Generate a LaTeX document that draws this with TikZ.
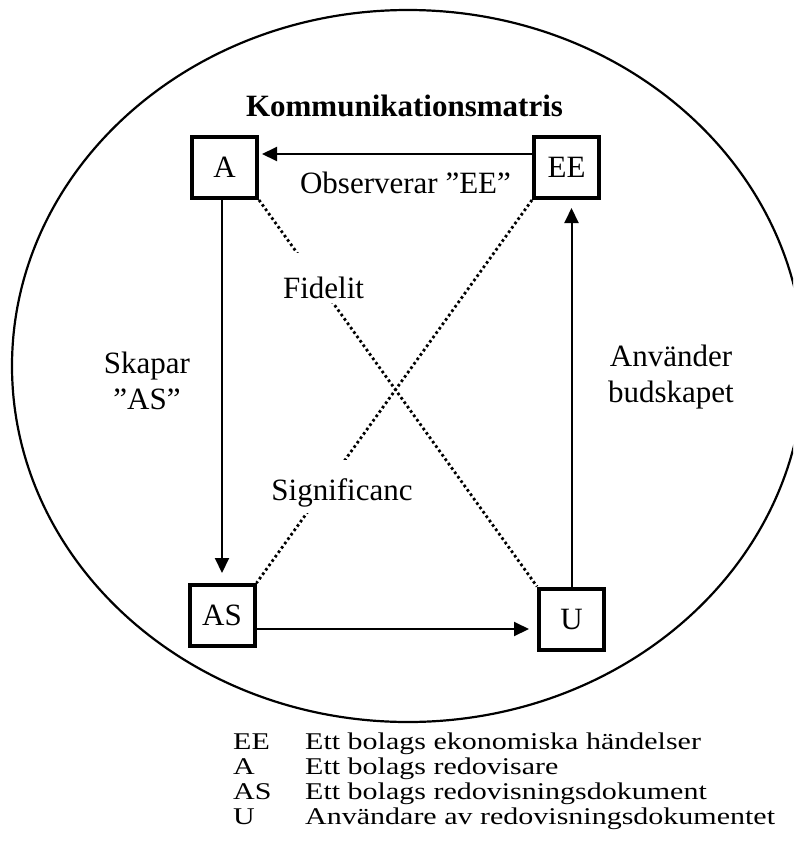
\documentclass[tikz,border=0pt]{standalone}
\usepackage{fontspec}
\setmainfont{Liberation Serif}
\usetikzlibrary{arrows.meta}
\newcommand{\wideText}[1]{\scalebox{1.25}[1]{#1}}

\begin{document}
\begin{tikzpicture}[x=1pt,y=-1pt,
  box/.style={draw,line width=4pt,minimum width=65pt,minimum height=61pt,inner sep=0pt,font=\fontsize{31}{36}\selectfont},
  lbl/.style={inner sep=0pt,font=\fontsize{31}{36}\selectfont},
  gap/.style={lbl,fill=white,inner xsep=3pt,anchor=base},
  arr/.style={line width=2pt,-{Triangle[length=15pt,width=14pt]}},
  dots/.style={line width=2.8pt,dash pattern=on 2.6pt off 2.8pt},
  key/.style={inner sep=0pt,anchor=base west,font=\fontsize{24}{25}\selectfont}]
\useasboundingbox (0,0) rectangle (793,846);
\clip (0,0) rectangle (793,846);
\draw[line width=2.2pt] (408,366) ellipse [x radius=396pt, y radius=356pt];
\node[lbl,anchor=base,font=\bfseries\fontsize{31}{36}\selectfont] (title) at (404.5,116.7) {Kommunikationsmatris};
% the four boxes
\node[box] (A) at (224.5,167.5) {A};
\node[box] (EE) at (566.5,167.5) {EE};
\node[box] (AS) at (222,615.5) {AS};
\node[box] (U) at (571.5,619) {U};
% solid arrows
\draw[arr,shorten >=3pt] ([yshift=13.5pt]EE.west) -- ([yshift=13.5pt]A.east);
\draw[arr,shorten >=10pt] (AS.north |- A.south) -- (AS.north);
\draw[arr,shorten >=8pt] ([yshift=-13.5pt]AS.east) -- ([yshift=-13.5pt]AS.east -| U.west);
\draw[arr,shorten >=8pt] (U.north) -- (U.north |- EE.south);
% dotted diagonals
\draw[dots] (A.south east) -- (U.north west);
\draw[dots] (EE.south west) -- (AS.north east);
\node[gap,text height=45pt,text depth=5pt] (fid) at (323.5,298) {Fidelit};
\node[gap,text height=40pt,text depth=13pt] (sig) at (342,500) {Significanc};
% labels
\node[lbl,anchor=base] (obs) at (405.5,193) {Observerar ”EE”};
\node[lbl,anchor=base,align=center] (skap) at (147,409) {Skapar\\”AS”};
\node[lbl,anchor=base,align=center] (anv) at (671,402) {Använder\\budskapet};
% legend
\node[key] (kEE) at (233,749) {\wideText{EE}};
\node[key] (tEE) at (305,749) {\wideText{Ett bolags ekonomiska händelser}};
\node[key] (kA) at (233,774) {\wideText{A}};
\node[key] (tA) at (305,774) {\wideText{Ett bolags redovisare}};
\node[key] (kAS) at (233,799) {\wideText{AS}};
\node[key] (tAS) at (305,799) {\wideText{Ett bolags redovisningsdokument}};
\node[key] (kU) at (233,824) {\wideText{U}};
\node[key] (tU) at (305,824) {\wideText{Användare av redovisningsdokumentet}};
\end{tikzpicture}
\end{document}
